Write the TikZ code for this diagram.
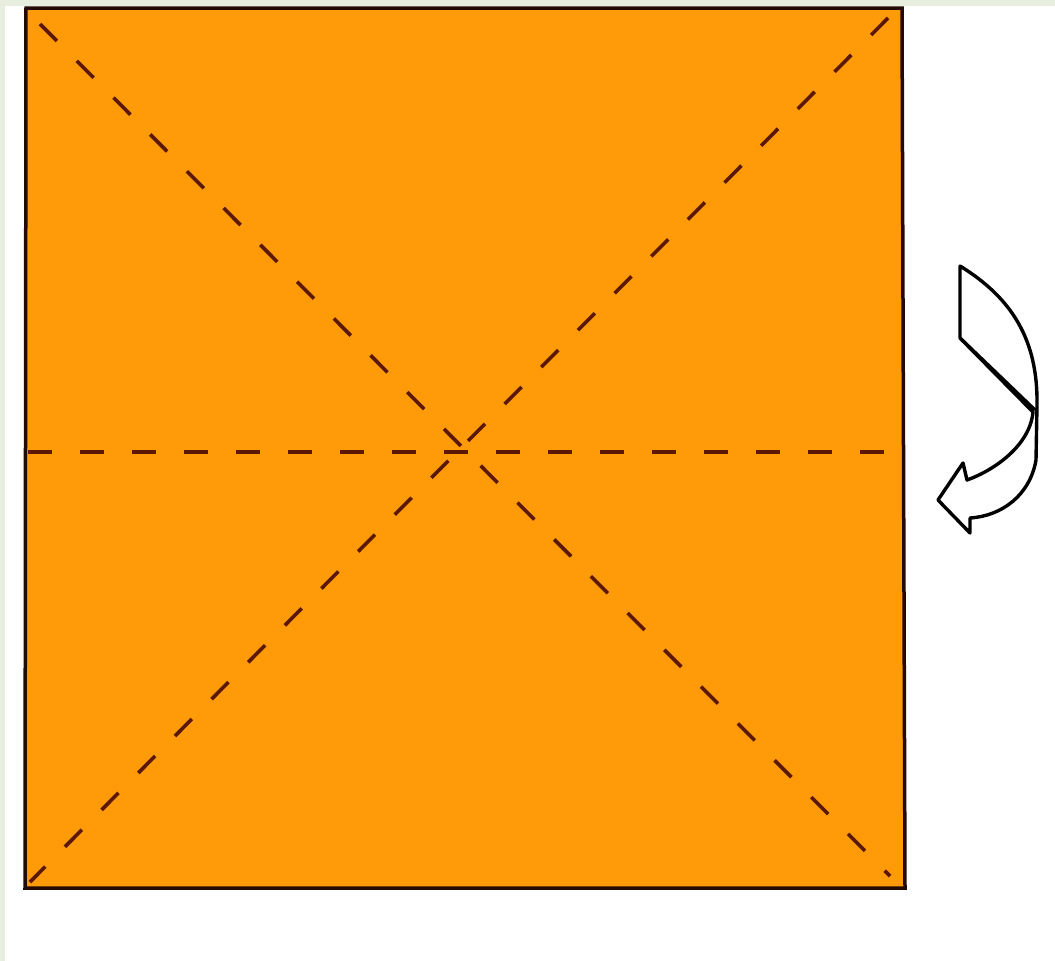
\documentclass[tikz,border=0pt]{standalone}
\begin{document}
\begin{tikzpicture}[x=1pt,y=-1pt,
  paper/.style={fill=sheet,draw=edge,line width=3.5pt,line join=miter},
  crease/.style={draw=creasecol,line width=3.6pt,dash pattern=on 24pt off 28pt},
  turnarrow/.style={draw=black,line width=3.4pt,fill=white,line join=round}]
\definecolor{sheet}{RGB}{255,155,8}
\definecolor{edge}{RGB}{35,10,5}
\definecolor{creasecol}{RGB}{90,24,5}
\definecolor{rim}{RGB}{232,238,222}
\useasboundingbox (0,0) rectangle (1055,961);
\fill[white] (0,0) rectangle (1055,961);
\fill[rim] (0,0) rectangle (1055,6);
\fill[rim] (0,0) rectangle (5,961);
% square sheet
\coordinate (tl) at (26,8);
\coordinate (tr) at (902,8);
\coordinate (br) at (905,888);
\coordinate (bl) at (25,888);
\draw[paper] (tl) -- (tr) -- (br) -- (bl) -- cycle;
% creases
\coordinate (c) at (462,452);
\draw[crease] (28,452) -- (900,452);
\draw[crease] (40,24) -- (890,876);
\draw[crease] (888,18) -- (30,882);
% turn-over arrow
\draw[turnarrow] (960,266) .. controls (1012,298) and (1038,340) .. (1037,405)
  -- (1036,460) .. controls (1030,495) and (1002,516) .. (970,518)
  -- (970,533) -- (938,500) -- (963,463) -- (967,480)
  .. controls (995,470) and (1030,445) .. (1033,412)
  -- (960,338) -- cycle;
\draw[black,line width=3.4pt] (960,338) -- (1035,410);
\end{tikzpicture}
\end{document}
